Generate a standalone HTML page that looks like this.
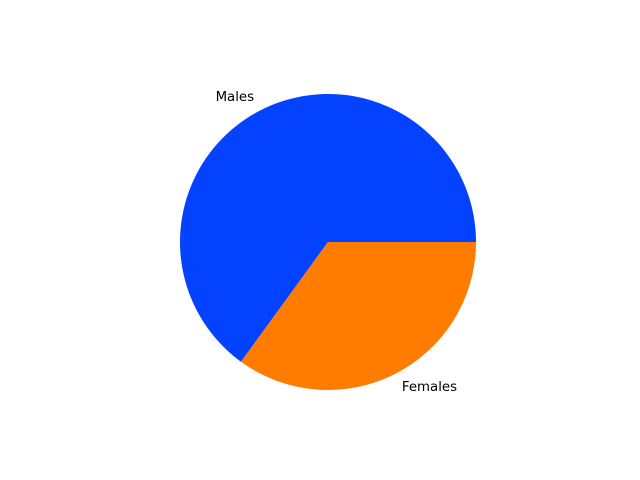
<!DOCTYPE html>
<html><head><meta charset="utf-8">
<style>
html,body{margin:0;padding:0;background:#fff;}
svg{display:block;font-family:"DejaVu Sans","Liberation Sans",sans-serif;}
</style></head>
<body>
<svg id="chart" width="640" height="480" viewBox="0 0 640 480"></svg>
<script>
const categories = ["Males", "Females"];
const values = [65, 35];
const colors = ["#0343ff", "#ff7c00"];

const svg = document.getElementById('chart');
const NS = "http://www.w3.org/2000/svg";
const cx = 328, cy = 242, r = 148;
const total = values.reduce((a, b) => a + b, 0);
function pt(deg, rad) {
  const a = deg * Math.PI / 180;
  return [cx + rad * Math.cos(a), cy - rad * Math.sin(a)];
}
let start = 0;
values.forEach((v, i) => {
  const sweep = v / total * 360;
  const end = start + sweep;
  const [x1, y1] = pt(start, r);
  const [x2, y2] = pt(end, r);
  const large = sweep > 180 ? 1 : 0;
  const p = document.createElementNS(NS, 'path');
  p.setAttribute('d', `M${cx},${cy} L${x1},${y1} A${r},${r} 0 ${large} 0 ${x2},${y2} Z`);
  p.setAttribute('fill', colors[i]);
  
  
  svg.appendChild(p);
  const mid = start + sweep / 2;
  const [lx, ly] = pt(mid, r * 1.1);
  const t = document.createElementNS(NS, 'text');
  t.setAttribute('x', lx);
  t.setAttribute('y', ly + 4);
  t.setAttribute('font-size', '13.33');
  t.setAttribute('fill', '#000');
  t.setAttribute('text-anchor', Math.cos(mid * Math.PI / 180) < 0 ? 'end' : 'start');
  t.textContent = categories[i];
  
  
  svg.appendChild(t);
  start = end;
});
</script>
</body></html>
